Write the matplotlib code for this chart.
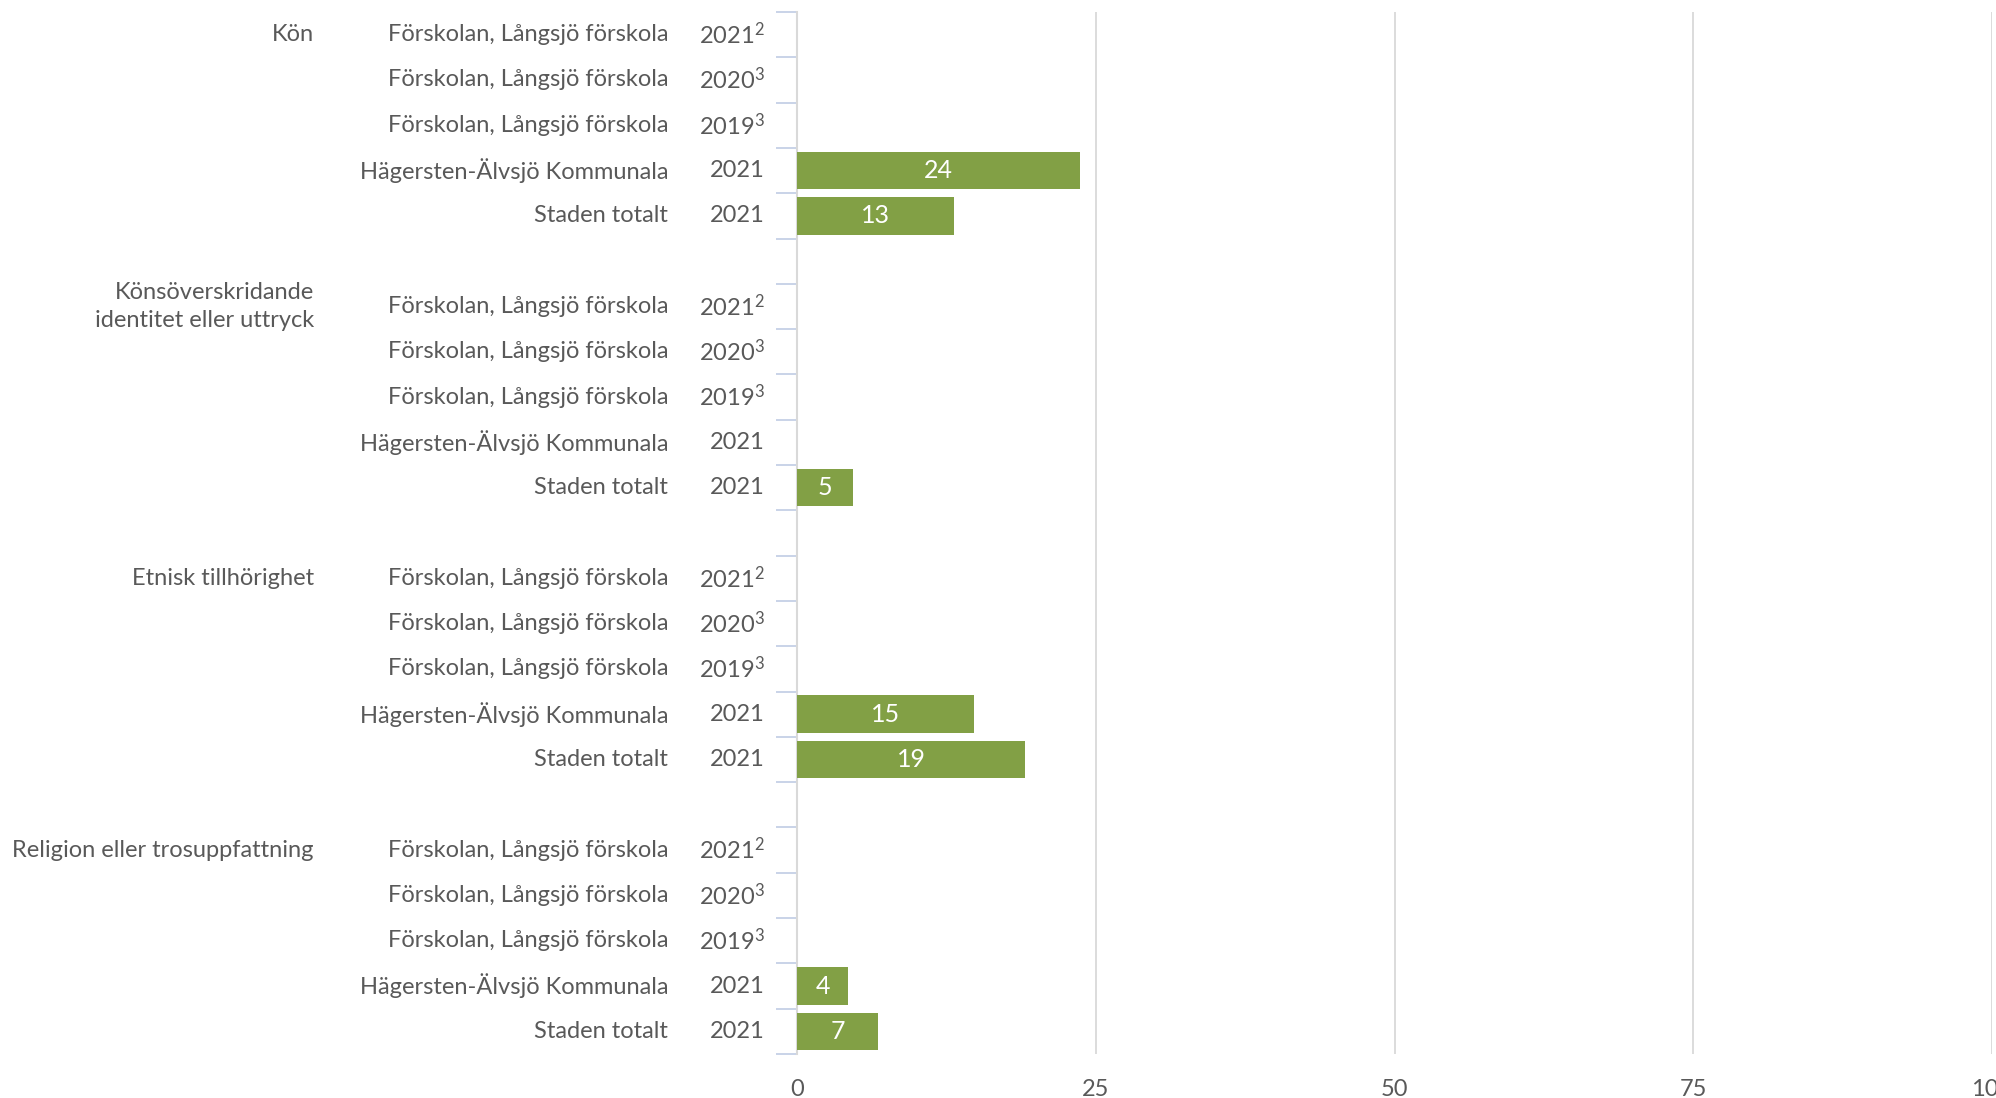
import numpy as np
import matplotlib
matplotlib.use("Agg")
import matplotlib.pyplot as plt
from matplotlib.transforms import blended_transform_factory

FONT = "Lato"
plt.rcParams['font.family'] = [FONT, 'DejaVu Sans']
plt.rcParams['mathtext.fontset'] = 'custom'
plt.rcParams['mathtext.rm'] = FONT
plt.rcParams['mathtext.it'] = FONT

groups = ["Kön", "Könsöverskridande\nidentitet eller uttryck",
          "Etnisk tillhörighet", "Religion eller trosuppfattning"]
units = ["Förskolan, Långsjö förskola", "Förskolan, Långsjö förskola",
         "Förskolan, Långsjö förskola", "Hägersten-Älvsjö Kommunala",
         "Staden totalt"]
years = ["2021", "2020", "2019", "2021", "2021"]
footnotes = ["2", "3", "3", "", ""]
values_kon = [np.nan, np.nan, np.nan, 23.7, 13.1]
values_kons = [np.nan, np.nan, np.nan, np.nan, 4.7]
values_etn = [np.nan, np.nan, np.nan, 14.8, 19.1]
values_rel = [np.nan, np.nan, np.nan, 4.3, 6.8]
all_values = [values_kon, values_kons, values_etn, values_rel]
xticks = [0, 25, 50, 75, 100]

bar_color = "#82a045"
text_color = "#595959"
grid_color = "#d9d9d9"
tick_color = "#c5d0e6"

W, H = 1996, 1098
fig = plt.figure(figsize=(W / 100, H / 100), dpi=100)
ax = fig.add_axes([797 / W, 1 - 1054 / H, (1992 - 797) / W, (1054 - 12) / H])

n_rows = len(groups) * 5 + (len(groups) - 1)
ax.set_ylim(n_rows, 0)
ax.set_xlim(0, 100)

fs = 17
lbl_tr = blended_transform_factory(fig.transFigure, ax.transData)
for gi, (g, vals) in enumerate(zip(groups, all_values)):
    start = gi * 6
    ax.text(314 / W, start + 0.5, g, transform=lbl_tr, ha="right", va="center",
            fontsize=fs, color=text_color, linespacing=1.45)
    for ri in range(5):
        y = start + ri + 0.5
        ax.text(668 / W, y, units[ri], transform=lbl_tr, ha="right", va="center",
                fontsize=fs, color=text_color)
        ytxt = years[ri] + (r"$^{\mathrm{%s}}$" % footnotes[ri] if footnotes[ri] else "")
        ax.text(765 / W, y, ytxt, transform=lbl_tr, ha="right", va="center",
                fontsize=fs, color=text_color)
        v = vals[ri]
        if not np.isnan(v):
            ax.barh(y, v, height=0.83, color=bar_color, zorder=3)
            ax.text(v / 2, y, f"{v:.0f}", ha="center", va="center",
                    fontsize=fs + 1, color="white", zorder=4)

# ticks at row boundaries
ax.set_yticks([])
ax.set_yticks(np.arange(0, n_rows + 1), minor=True)
ax.tick_params(axis="y", which="minor", length=15, width=1.3, color=tick_color,
               left=True, labelleft=False)

ax.set_xticks(xticks)
ax.set_xticklabels([str(t) for t in xticks])
ax.tick_params(axis="x", length=0, pad=18, labelsize=fs, labelcolor=text_color)
ax.grid(axis="x", color=grid_color, linewidth=1.3, zorder=0)
for s in ["top", "right", "bottom"]:
    ax.spines[s].set_visible(False)
ax.spines["left"].set_color(grid_color)
ax.spines["left"].set_linewidth(1.5)

fig.savefig("out.png", dpi=100)
